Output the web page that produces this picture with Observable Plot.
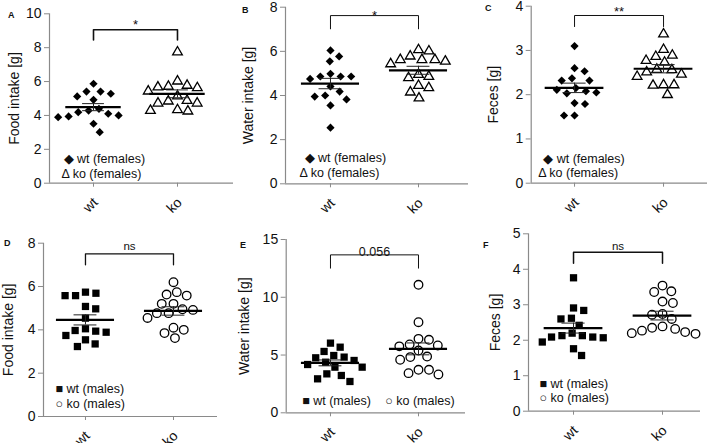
<!DOCTYPE html>
<html><head><meta charset="utf-8">
<script src="https://cdn.jsdelivr.net/npm/d3@7"></script>
<script src="https://cdn.jsdelivr.net/npm/@observablehq/plot@0.6"></script>
<style>
html,body{margin:0;padding:0;background:#fff;}
#fig{position:relative;width:709px;height:443px;overflow:hidden;font-family:"Liberation Sans",Arial,sans-serif;}
.panel{position:absolute;}
.letter{position:absolute;font-weight:bold;font-size:9px;line-height:9px;color:#111;}
</style></head><body><div id="fig"></div>
<script>
// ---------- data ----------
const groups = ["wt", "ko"];

const foodF_wt  = [5.87, 5.41, 5.28, 5.12, 5.41, 4.92, 4.29, 4.10, 3.94, 3.90, 4.00, 4.19, 4.39, 3.51, 3.01];
const foodF_ko  = [7.74, 6.02, 5.77, 5.67, 5.63, 5.71, 5.43, 5.14, 4.88, 4.72, 4.84, 4.29, 4.25, 4.33, 4.72];
const waterF_wt = [6.04, 5.77, 5.55, 4.86, 4.86, 4.98, 4.86, 4.75, 4.41, 4.00, 3.82, 3.95, 4.18, 3.55, 2.54];
const waterF_ko = [6.01, 6.07, 5.62, 5.62, 5.43, 5.55, 5.62, 5.78, 4.86, 4.80, 4.95, 4.35, 4.45, 4.15, 3.88];
const fecesF_wt = [3.10, 2.60, 2.53, 2.32, 2.37, 2.32, 2.11, 2.03, 2.05, 2.08, 2.15, 1.79, 1.81, 1.53, 1.53];
const fecesF_ko = [3.37, 2.89, 3.02, 2.86, 2.73, 2.77, 2.56, 2.46, 2.41, 2.51, 2.57, 2.22, 2.00, 2.21, 2.22];

const foodM_wt  = [5.58, 5.69, 5.74, 5.58, 5.08, 4.97, 4.54, 4.05, 3.89, 3.97, 3.94, 3.74, 3.54, 3.35, 3.23];
const foodM_ko  = [6.20, 5.74, 5.58, 5.63, 5.20, 5.20, 4.92, 4.77, 4.55, 4.77, 4.00, 4.10, 3.85, 3.62, 4.95];
const waterM_wt = [6.03, 5.31, 5.68, 4.76, 4.82, 4.96, 4.38, 3.95, 3.95, 4.18, 4.53, 3.23, 3.37, 2.71, 2.94];
const waterM_ko = [11.08, 7.84, 6.32, 6.40, 5.91, 5.83, 5.39, 4.82, 4.59, 4.87, 3.72, 3.32, 3.43, 3.72, 5.75];
const fecesM_wt = [3.76, 2.91, 2.84, 2.60, 2.62, 2.42, 2.13, 2.09, 2.07, 2.09, 2.13, 2.20, 1.95, 1.76, 1.57];
const fecesM_ko = [3.54, 3.36, 3.38, 3.05, 3.09, 2.74, 2.60, 2.72, 2.32, 2.39, 2.27, 2.23, 2.18, 2.20, 2.35];

const ticksA = [0, 2, 4, 6, 8, 10];
const ticksB = [0, 2, 4, 6, 8];
const ticksC = [0, 1, 2, 3, 4];
const ticksD = [0, 2, 4, 6, 8];
const ticksE = [0, 5, 10, 15];
const ticksF = [0, 1, 2, 3, 4, 5];

const labels = ["Food intake [g]", "Water intake [g]", "Feces [g]"];
const sigLabels = ["*", "*", "**", "ns", "0.056", "ns"];
const bracketTop = [9.06, 7.62, 3.79, 7.51, 13.67, 4.48];
const bracketLeg = [8.46, 7.02, 3.54, 7.00, 12.52, 4.17];
const legendF = ["◆ wt (females)", "Δ ko (females)"];
const legendM = ["■ wt (males)", "○ ko (males)"];

// ---------- layout / style ----------
const AX = "#8a8a8a";
const panels = [
  {id:"A", wt:foodF_wt,  ko:foodF_ko,  ticks:ticksA, label:labels[0], sex:"F", box:[0,0,236,220],   m:[13.3,3,37.3,49],   xd:[-0.524,1.667], lab:35, sig:{fs:13,dy:-5}, brw:1.6,
   leg:[{dx:14,dy:-24.5},{dx:12,dy:-9.5}], L:[8,11]},
  {id:"B", wt:waterF_wt, ko:waterF_ko, ticks:ticksB, label:labels[1], sex:"F", box:[236,0,236,220], m:[6.7,4,36.7,49],    xd:[-0.511,1.568], lab:37, sig:{fs:13,dy:0}, brw:1,
   leg:[{dx:19,dy:-25.8},{dx:14,dy:-10.5}], L:[242,6]},
  {id:"C", wt:fecesF_wt, ko:fecesF_ko, ticks:ticksC, label:labels[2], sex:"F", box:[472,0,237,220], m:[5.7,2,37.3,58.7],  xd:[-0.487,1.494], lab:38, sig:{fs:13,dy:-4}, brw:1,
   leg:[{dx:12,dy:-24.2},{dx:7,dy:-10.5}], L:[485,4]},
  {id:"D", wt:foodM_wt,  ko:foodM_ko,  ticks:ticksD, label:labels[0], sex:"M", box:[0,220,236,223], m:[22.7,19,27,43],    xd:[-0.477,1.5],   lab:35, sig:{fs:11.5,dy:-7.3}, brw:1.3,
   leg:[{dx:12,dy:-27.5},{dx:12,dy:-12.8}], L:[4,239]},
  {id:"E", wt:waterM_wt, ko:waterM_ko, ticks:ticksE, label:labels[1], sex:"M", box:[236,220,236,223], m:[19,7,30.7,49.7], xd:[-0.503,1.534], lab:42, sig:{fs:12.5,dy:-3.3}, brw:1,
   leg:[{dx:16,dy:-12},{dx:99,dy:-12}], L:[240,241]},
  {id:"F", wt:fecesM_wt, ko:fecesM_ko, ticks:ticksF, label:labels[2], sex:"M", box:[472,220,237,223], m:[13.3,9,32.3,56],  xd:[-0.506,1.427], lab:33, sig:{fs:11.5,dy:-6.4}, brw:1.5,
   leg:[{dx:11,dy:-27},{dx:11,dy:-13.5}], L:[483,241]}
];

// beeswarm-style non-overlapping placement (computed from the values)
function swarm(values, pxY, pxX, diam) {
  const order = d3.range(values.length).sort((a, b) => values[b] - values[a]);
  const placed = [], off = new Array(values.length).fill(0);
  let side = 1;
  for (const i of order) {
    const y = values[i] * pxY;
    const cands = [0];
    for (const p of placed) {
      const dy = y - p.y;
      if (Math.abs(dy) < diam) {
        const dx = Math.sqrt(diam * diam - dy * dy);
        cands.push(p.x + dx, p.x - dx);
      }
    }
    cands.sort((a, b) => (Math.abs(a) - Math.abs(b)) || (side * (b - a)));
    for (const c of cands) {
      if (placed.every(p => (p.x - c) ** 2 + (p.y - y) ** 2 >= diam * diam - 1e-6)) {
        off[i] = c; placed.push({x: c, y}); if (c !== 0) side = -Math.sign(c); break;
      }
    }
  }
  return off.map(o => o / pxX);
}

const fig = document.getElementById("fig");
panels.forEach((P, k) => {
  const [left, top, W, H] = P.box;
  const [mt, mr, mb, ml] = P.m;
  const yMax = P.ticks[P.ticks.length - 1];
  const pxY = (H - mt - mb) / yMax;
  const pxX = (W - ml - mr) / (P.xd[1] - P.xd[0]);
  const male = P.sex === "M";
  const pts = [];
  const stats = [];
  [P.wt, P.ko].forEach((vals, i) => {
    const offs = swarm(vals, pxY, pxX, 10.5);
    vals.forEach((v, j) => pts.push({g: groups[i], i, v, x: i + offs[j]}));
    const mean = d3.mean(vals), sem = d3.deviation(vals) / Math.sqrt(vals.length);
    stats.push({i, mean, lo: mean - sem, hi: mean + sem});
  });
  const bracket = [
    {x: 0, y: bracketLeg[k]}, {x: 0, y: bracketTop[k]},
    {x: 1, y: bracketTop[k]}, {x: 1, y: bracketLeg[k]}
  ];
  const leg = male ? legendM : legendF;
  const symWt = male ? "square" : "diamond2";
  const symKo = male ? "circle" : "triangle";
  const rWt = male ? 4.1 : 3.7;
  const rKo = male ? 4.3 : 3.6;

  const chart = Plot.plot({
    width: W, height: H,
    marginTop: mt, marginRight: mr, marginBottom: mb, marginLeft: ml,
    style: {fontFamily: "'Liberation Sans', Arial, sans-serif", background: "transparent", overflow: "visible", color: "#111"},
    x: {domain: P.xd, axis: null},
    y: {domain: [0, yMax], axis: null},
    marks: [
      Plot.ruleY([0], {stroke: AX, strokeWidth: 1.2}),
      Plot.ruleX([P.xd[0]], {stroke: AX, strokeWidth: 1.2}),
      Plot.axisY({ticks: P.ticks, tickSize: 5, tickPadding: 3, fontSize: 14, stroke: AX, label: null, tickFormat: d => String(d)}),
      Plot.axisX({ticks: [0, 1], tickFormat: () => "", tickSize: 4, stroke: AX, label: null}),
      Plot.text(groups, {x: (d, i) => i, frameAnchor: "bottom", rotate: -45, textAnchor: "end", lineAnchor: "middle", dx: 2, dy: 17, fontSize: 14, fill: "#111"}),
      Plot.text([P.label], {frameAnchor: "left", rotate: -90, textAnchor: "middle", lineAnchor: "middle", dx: -P.lab, fontSize: 14, fill: "#111"}),
      Plot.dot(pts.filter(d => d.i === 0), {x: "x", y: "v", symbol: symWt, r: rWt, fill: "#000", stroke: "none"}),
      Plot.dot(pts.filter(d => d.i === 1), {x: "x", y: "v", symbol: symKo, r: rKo, fill: "none", stroke: "#000", strokeWidth: 1.3}),
      Plot.ruleY(stats, {y: "mean", x1: d => d.i - 0.33, x2: d => d.i + 0.33, stroke: "#000", strokeWidth: 2.2}),
      Plot.ruleY(stats, {y: "hi", x1: d => d.i - 0.13, x2: d => d.i + 0.13, stroke: "#222", strokeWidth: 1}),
      Plot.ruleY(stats, {y: "lo", x1: d => d.i - 0.13, x2: d => d.i + 0.13, stroke: "#222", strokeWidth: 1}),
      Plot.ruleX(stats, {x: "i", y1: "lo", y2: "hi", stroke: "#222", strokeWidth: 1}),
      Plot.line(bracket, {x: "x", y: "y", stroke: "#111", strokeWidth: P.brw}),
      Plot.text([sigLabels[k]], {x: 0.5, y: bracketTop[k], dy: P.sig.dy, textAnchor: "middle", lineAnchor: "middle", fontSize: P.sig.fs, fill: "#111"}),
      Plot.text([leg[0]], {frameAnchor: "bottom-left", dx: P.leg[0].dx, dy: P.leg[0].dy, textAnchor: "start", lineAnchor: "middle", fontSize: 12.5, fill: "#111"}),
      Plot.text([leg[1]], {frameAnchor: "bottom-left", dx: P.leg[1].dx, dy: P.leg[1].dy, textAnchor: "start", lineAnchor: "middle", fontSize: 12.5, fill: "#111"})
    ]
  });
  chart.classList.add("panel");
  chart.style.left = left + "px";
  chart.style.top = top + "px";
  fig.appendChild(chart);

  const lt = document.createElement("div");
  lt.className = "letter";
  lt.textContent = P.id;
  lt.style.left = P.L[0] + "px";
  lt.style.top = P.L[1] + "px";
  fig.appendChild(lt);
});
</script>
</body></html>
